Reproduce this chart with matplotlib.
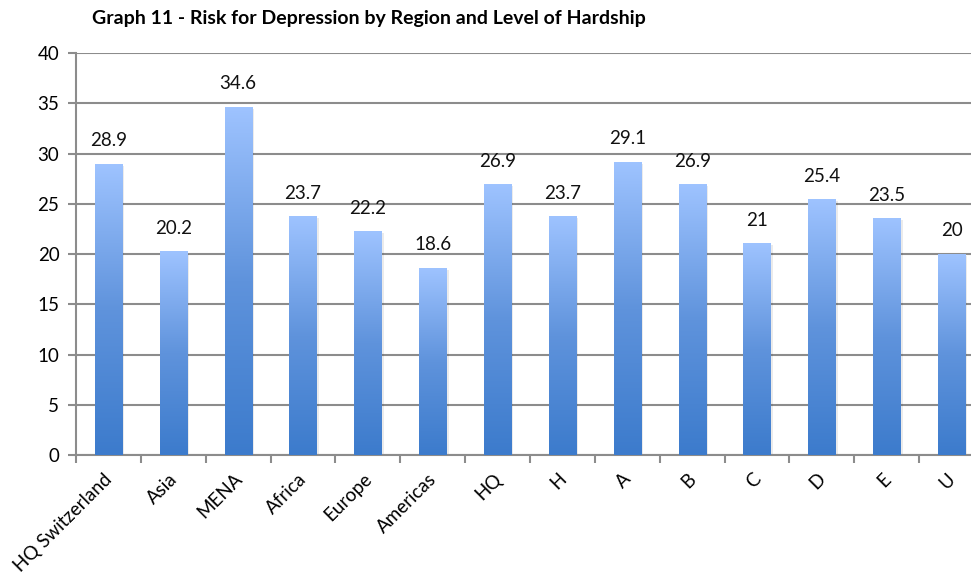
"""Graph 11 - risk for depression by region and level of hardship."""

import matplotlib

matplotlib.use("Agg")
import matplotlib.pyplot as plt
import matplotlib.transforms as mtransforms
import numpy as np
from matplotlib.colors import LinearSegmentedColormap

CATEGORIES = ["HQ Switzerland", "Asia", "MENA", "Africa", "Europe", "Americas",
              "HQ", "H", "A", "B", "C", "D", "E", "U"]
VALUES = [28.9, 20.2, 34.6, 23.7, 22.2, 18.6, 26.9, 23.7, 29.1, 26.9, 21, 25.4, 23.5, 20]
LABELS = ["28.9", "20.2", "34.6", "23.7", "22.2", "18.6", "26.9", "23.7", "29.1",
          "26.9", "21", "25.4", "23.5", "20"]
TITLE = "Graph 11 - Risk for Depression by Region and Level of Hardship"

plt.rcParams["font.family"] = ["Lato", "DejaVu Sans"]

grid_color = "#8c8c8c"
bar_cmap = LinearSegmentedColormap.from_list("bar", ["#3c7bcc", "#5f93dc", "#9ec3ff"])

fig = plt.figure(figsize=(9.71, 5.75), dpi=100)
ax = fig.add_axes([0.0783, 0.2087, 0.9351, 0.6991])

x = np.arange(len(CATEGORIES))
width = 0.42
bars = ax.bar(x, VALUES, width, color="none", zorder=3)
gradient = np.linspace(0, 1, 256).reshape(-1, 1)
for rect in bars:
    x0 = rect.get_x()
    h = rect.get_height()
    # soft shadow to the right
    ax.bar(x0 + width / 2 + 0.035, h, width, bottom=-0.15, color="#000000", alpha=0.08, zorder=2)
    ax.imshow(gradient, cmap=bar_cmap, origin="lower", aspect="auto",
              extent=(x0, x0 + width, 0, h), zorder=3)

for xi, v, lab in zip(x, VALUES, LABELS):
    ax.text(xi, v + 1.5, lab, ha="center", va="bottom", fontsize=13.5, color="#111111")

ax.set_xlim(-0.5, len(CATEGORIES) - 0.5)
ax.set_ylim(0, 40)
ax.set_yticks(np.arange(0, 41, 5))
ax.set_xticks(x)
ax.set_xticklabels(CATEGORIES, rotation=45, ha="right", rotation_mode="anchor", fontsize=13.5)
ax.tick_params(axis="x", length=0, pad=11)
shift = mtransforms.ScaledTranslation(-5 / 100, 0, fig.dpi_scale_trans)
for label in ax.get_xticklabels():
    label.set_transform(label.get_transform() + shift)
ax.set_xticks(np.arange(-0.5, len(CATEGORIES), 1), minor=True)
ax.tick_params(axis="x", which="minor", length=6, color=grid_color, width=1.5)
ax.tick_params(axis="y", length=6, color=grid_color, width=1.5, labelsize=13.5, pad=6)
ax.yaxis.grid(True, color=grid_color, linewidth=1.5, zorder=0)
ax.set_axisbelow(True)
for side in ("top", "right"):
    ax.spines[side].set_visible(False)
for side in ("left", "bottom"):
    ax.spines[side].set_color(grid_color)
    ax.spines[side].set_linewidth(1.5)

fig.text(0.0948, 0.968, TITLE, fontsize=14, fontweight="bold", va="center", ha="left")

fig.savefig("out.png", dpi=100)
